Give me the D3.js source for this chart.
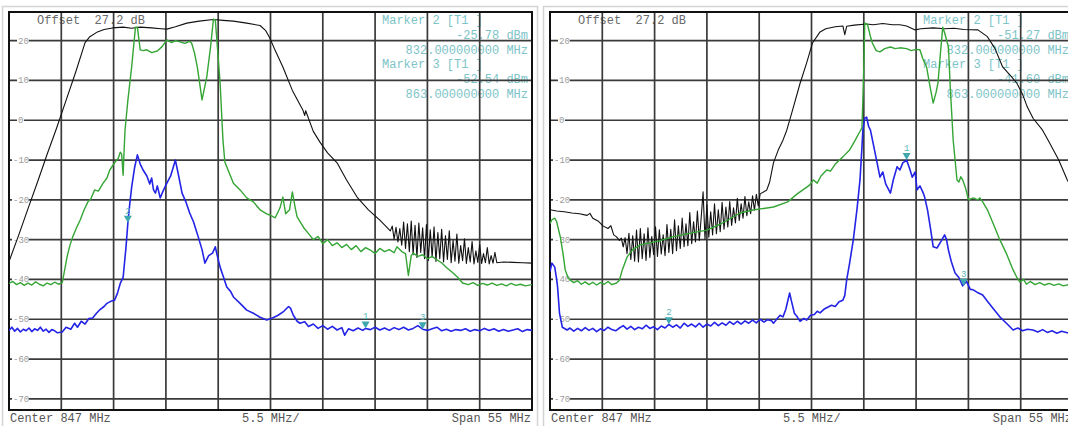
<!DOCTYPE html>
<html>
<head>
<meta charset="utf-8">
<script src="https://cdn.jsdelivr.net/npm/d3@7"></script>
<style>
  body { margin: 0; background: #fff; }
  svg { display: block; }
  text { font-family: "Liberation Mono", "DejaVu Sans Mono", monospace; }
</style>
</head>
<body>
<div id="chart"></div>
<script>
// Sweep settings
const centerMHz = 847;
const spanMHz = 55;
const refLevel = 27.2;
const bottomLevel = -72.8;
const freqGrid = [825, 830.5, 836, 841.5, 847, 852.5, 858, 863.5, 869];
const dbGrid = [20, 10, 0, -10, -20, -30, -40, -50, -60, -70];
const footerLabels = ['Center 847 MHz', '5.5 MHz/', 'Span 55 MHz'];
const offsetLabel = 'Offset  27.2 dB';

// Left screen traces, [MHz, dBm]
const leftBlack = [
  [819.5,-35.5],[820.5,-29.0],[821.5,-22.2],[822.5,-15.5],[823.5,-8.6],[824.5,-2.0],[825.5,5.0],
  [826.5,12.0],[827.5,19.5],[828.0,21.0],[828.8,22.2],[829.5,22.8],[830.4,23.2],[831.5,23.4],
  [832.4,23.1],[833.3,23.4],[834.5,23.2],[835.5,23.0],[836.1,22.9],[837.0,23.5],[838.2,24.4],
  [839.5,24.9],[841.0,25.3],[842.0,25.1],[843.1,24.9],[844.5,24.4],[845.9,23.8],[846.5,22.5],
  [846.9,20.8],[847.5,17.5],[848.3,13.4],[849.3,7.5],[850.4,2.6],[850.6,1.2],[850.7,2.4],[851.5,-2.8],
  [852.2,-5.5],[853.0,-8.2],[854.0,-10.7],[855.0,-15.0],[856.1,-19.3],[857.3,-22.5],[858.5,-25.1],
  [859.6,-27.8],[859.8,-26.6],[860.0,-29.8],[860.2,-26.9],[860.4,-30.6],[860.6,-27.2],[860.8,-31.4],
  [861.0,-25.6],[861.2,-32.2],[861.4,-26.0],[861.6,-33.0],[861.8,-25.3],[862.0,-33.8],[862.2,-26.4],
  [862.4,-34.5],[862.6,-25.8],[862.8,-33.2],[863.0,-27.0],[863.2,-34.8],[863.4,-26.2],[863.6,-35.2],
  [863.8,-27.5],[864.0,-34.4],[864.2,-26.8],[864.4,-35.5],[864.6,-28.2],[864.8,-34.8],[865.0,-27.4],
  [865.2,-35.6],[865.4,-29.0],[865.6,-35.0],[865.8,-27.8],[866.0,-35.8],[866.2,-30.2],[866.4,-35.4],
  [866.6,-28.6],[866.8,-35.9],[867.0,-31.5],[867.2,-35.3],[867.4,-29.8],[867.6,-36.0],[867.8,-32.0],
  [868.0,-35.6],[868.2,-30.5],[868.4,-36.1],[868.6,-32.8],[868.8,-35.7],[869.0,-31.2],[869.2,-36.0],
  [869.4,-33.5],[869.6,-35.8],[869.8,-32.0],[870.0,-36.1],[870.2,-34.0],[870.4,-35.9],[870.6,-33.2],
  [870.8,-35.8],[871.5,-35.6],[872.5,-35.7],[873.5,-35.8],[874.5,-35.9]
];
const leftGreen = [
  [819.5,-41.0],[819.9,-40.5],[820.3,-41.3],[820.7,-40.8],[821.1,-41.5],[821.5,-40.9],[821.9,-41.4],
  [822.3,-40.6],[822.7,-41.2],[823.1,-41.6],[823.5,-40.9],[823.9,-41.3],[824.3,-40.7],[824.7,-41.2],
  [825.1,-40.8],[825.4,-37.0],[825.6,-34.4],[825.9,-31.5],[826.2,-29.3],[826.6,-27.0],[827.0,-25.0],
  [827.4,-22.5],[827.8,-20.5],[828.1,-19.8],[828.5,-17.5],[828.9,-17.8],[829.4,-15.8],[829.8,-14.5],
  [830.1,-12.5],[830.6,-10.7],[831.0,-9.5],[831.2,-8.0],[831.35,-8.5],[831.5,-13.8],[831.6,-8.0],
  [831.7,-2.5],[832.0,5.0],[832.4,13.4],[832.8,23.4],[833.0,23.4],[833.3,17.7],[833.6,17.5],
  [834.0,17.7],[834.5,17.0],[835.1,17.4],[835.6,18.5],[836.1,20.2],[836.6,19.5],[837.0,20.0],
  [837.5,19.7],[838.0,19.3],[838.5,19.8],[838.7,19.4],[839.0,17.0],[839.3,13.4],[839.8,5.1],
  [840.3,10.9],[840.7,18.5],[841.0,25.4],[841.2,25.2],[841.7,9.4],[842.0,-5.0],[842.2,-10.5],
  [842.4,-11.7],[843.1,-15.8],[843.8,-17.5],[844.5,-19.5],[845.2,-20.5],[845.9,-22.5],[846.6,-23.5],
  [846.9,-23.8],[847.5,-24.5],[848.0,-22.0],[848.3,-19.3],[848.6,-23.5],[849.0,-22.5],[849.3,-18.0],
  [849.6,-22.0],[849.8,-24.3],[850.5,-27.0],[851.0,-28.5],[851.5,-30.0],[852.0,-29.2],[852.5,-31.0],
  [853.0,-30.0],[853.5,-31.5],[854.0,-30.8],[854.5,-32.0],[855.0,-31.2],[855.5,-32.5],[856.0,-31.5],
  [856.5,-33.0],[857.0,-32.0],[857.5,-32.6],[858.0,-33.5],[858.5,-32.2],[859.0,-33.0],[859.5,-32.5],
  [860.0,-33.3],[860.3,-31.8],[860.8,-33.0],[861.2,-33.5],[861.5,-39.0],[861.8,-34.0],[862.0,-33.4],
  [862.5,-34.2],[863.0,-33.8],[863.5,-34.8],[864.0,-34.2],[864.5,-35.1],[865.0,-35.8],[865.5,-37.0],
  [866.2,-38.4],[866.7,-39.5],[867.2,-40.9],[867.8,-41.3],[868.3,-40.8],[868.8,-41.5],[869.3,-41.0],
  [869.8,-41.4],[870.3,-40.9],[870.8,-41.5],[871.3,-41.1],[871.8,-41.6],[872.3,-41.0],[872.8,-41.5],
  [873.3,-41.2],[873.8,-41.6],[874.5,-41.3]
];
const leftBlue = [
  [819.5,-52.8],[819.8,-52.0],[820.1,-53.0],[820.4,-52.3],[820.7,-53.2],[821.0,-52.5],[821.3,-52.9],
  [821.6,-52.2],[821.9,-53.1],[822.2,-52.4],[822.5,-52.8],[822.8,-52.0],[823.1,-53.0],[823.4,-52.5],
  [823.7,-53.3],[824.0,-52.6],[824.3,-52.9],[824.6,-53.4],[825.1,-53.2],[825.5,-52.0],[826.0,-52.5],
  [826.4,-51.0],[826.7,-52.0],[827.1,-50.5],[827.5,-51.2],[827.9,-49.8],[828.3,-49.7],[828.7,-48.5],
  [829.1,-47.5],[829.5,-46.8],[829.8,-46.0],[830.2,-45.5],[830.6,-45.2],[830.9,-43.5],[831.2,-41.0],
  [831.5,-39.5],[831.8,-32.0],[832.0,-25.8],[832.2,-21.0],[832.4,-16.8],[832.7,-12.0],[833.0,-8.7],
  [833.3,-11.0],[833.6,-12.5],[834.0,-14.0],[834.3,-16.0],[834.5,-14.5],[834.7,-17.5],[834.9,-18.3],
  [835.1,-16.5],[835.4,-19.5],[835.7,-17.8],[836.1,-15.8],[836.5,-14.0],[837.0,-10.0],[837.3,-13.5],
  [837.7,-18.3],[838.1,-20.5],[838.5,-23.3],[838.9,-25.5],[839.4,-29.3],[839.8,-32.5],[840.1,-35.9],
  [840.5,-34.0],[840.9,-33.4],[841.2,-31.8],[841.4,-34.0],[841.7,-36.9],[842.0,-39.0],[842.4,-41.9],
  [842.8,-43.0],[843.1,-44.4],[843.8,-46.0],[844.5,-47.7],[845.2,-48.5],[845.9,-49.5],[846.6,-50.2],
  [847.2,-49.7],[847.8,-49.0],[848.4,-48.0],[848.9,-46.8],[849.1,-47.2],[849.4,-49.0],[849.8,-50.5],
  [850.1,-51.0],[850.6,-50.6],[851.0,-51.8],[851.5,-51.2],[852.0,-52.3],[852.5,-51.6],[853.0,-52.5],
  [853.5,-51.8],[854.0,-52.7],[854.5,-52.1],[854.8,-54.0],[855.2,-52.4],[855.7,-52.9],[856.2,-52.2],
  [856.7,-52.8],[857.0,-52.3],[857.5,-52.6],[858.0,-52.0],[858.5,-52.7],[859.0,-52.2],[859.5,-52.8],
  [860.0,-52.1],[860.5,-52.6],[861.0,-52.0],[861.5,-52.7],[862.0,-52.3],[862.5,-51.6],[863.0,-52.5],
  [863.5,-52.8],[864.0,-52.4],[864.5,-52.0],[865.0,-52.9],[865.5,-52.5],[866.0,-53.0],[866.5,-52.6],
  [867.0,-52.8],[867.5,-52.4],[868.0,-53.0],[868.5,-52.6],[869.0,-52.9],[869.5,-52.3],[870.0,-52.8],
  [870.5,-52.4],[871.0,-53.0],[871.5,-52.6],[872.0,-53.0],[872.5,-52.7],[873.0,-52.4],[873.5,-53.1],
  [874.0,-52.6],[874.5,-52.8]
];

// Right screen traces, [MHz, dBm]
const rightBlack = [
  [819.5,-22.5],[820.2,-22.8],[821.0,-23.0],[821.8,-23.3],[822.6,-23.5],[823.4,-23.9],[823.7,-23.4],
  [824.0,-24.6],[824.6,-25.4],[825.1,-26.6],[825.6,-27.2],[825.9,-26.5],[826.2,-28.8],[826.5,-29.3],
  [826.8,-30.2],[827.0,-29.6],
  [827.2,-31.8],[827.4,-29.5],[827.6,-33.5],[827.8,-28.4],[828.0,-35.0],[828.2,-29.0],[828.4,-35.4],
  [828.6,-27.6],[828.8,-35.6],[829.0,-27.2],[829.2,-34.8],[829.4,-28.5],[829.6,-35.2],[829.8,-27.0],
  [830.0,-34.5],[830.2,-29.2],[830.4,-33.8],[830.6,-26.8],[830.8,-34.2],[831.0,-27.5],[831.2,-33.6],
  [831.4,-28.8],[831.6,-34.0],[831.8,-26.2],[832.0,-33.2],[832.2,-27.4],[832.4,-33.5],[832.6,-25.0],
  [832.8,-32.8],[833.0,-26.5],[833.2,-32.2],[833.4,-24.6],[833.6,-31.8],[833.8,-26.0],[834.0,-31.5],
  [834.2,-23.2],[834.4,-31.0],[834.6,-25.5],[834.8,-30.6],[835.0,-22.8],[835.2,-30.2],[835.4,-24.4],
  [835.6,-18.0],[835.8,-29.8],[836.0,-21.2],[836.2,-29.4],[836.4,-23.0],[836.6,-28.8],[836.8,-21.0],
  [837.0,-28.5],[837.2,-22.5],[837.4,-28.0],[837.6,-20.6],[837.8,-27.4],[838.0,-21.8],[838.2,-26.8],
  [838.4,-20.4],[838.6,-26.4],[838.8,-22.0],[839.0,-25.8],[839.2,-19.6],[839.4,-25.2],[839.6,-21.0],
  [839.8,-24.6],[840.0,-19.2],[840.2,-24.0],[840.4,-20.5],[840.6,-23.5],[840.8,-19.0],[841.0,-22.6],
  [841.2,-18.6],[841.4,-21.5],[841.6,-18.5],
  [842.3,-17.5],[842.6,-15.5],[843.0,-10.7],[843.5,-7.5],[844.0,-5.0],[844.4,-2.5],[845.0,2.5],
  [845.8,9.3],[846.5,14.5],[847.1,19.4],[847.9,22.2],[848.5,23.0],[849.5,23.5],[850.3,23.7],
  [850.5,21.5],[850.7,23.6],[851.5,23.9],[852.8,24.2],[853.5,24.0],[854.5,24.3],[855.5,24.0],
  [856.3,24.0],[857.0,23.7],[857.9,22.7],[858.5,23.0],[859.8,23.2],[861.0,23.0],[862.0,23.1],
  [863.0,22.8],[864.5,22.7],[865.5,21.0],[866.3,18.0],[867.1,13.4],[868.0,11.0],[868.6,9.3],
  [869.2,6.5],[869.7,3.3],[870.3,0.5],[871.3,-2.5],[872.0,-5.5],[873.0,-10.0],[873.9,-15.0],[874.5,-17.5]
];
const rightGreen = [
  [819.5,-26.0],[819.7,-25.0],[820.0,-24.6],[820.2,-25.5],[820.6,-29.5],[820.9,-34.0],[821.1,-37.6],
  [821.4,-39.5],[821.6,-40.1],[822.0,-40.8],[822.4,-40.3],[822.8,-41.2],[823.2,-40.6],[823.6,-41.3],
  [824.0,-40.7],[824.4,-41.4],[824.8,-40.8],[825.2,-41.2],[825.6,-40.5],[826.0,-41.3],[826.5,-40.9],
  [826.8,-40.2],[827.1,-37.6],[827.6,-34.4],[828.2,-32.5],[829.0,-31.3],[830.0,-30.8],[831.0,-30.3],
  [832.4,-29.3],[834.0,-28.5],[836.0,-27.6],[837.5,-26.0],[839.5,-23.3],[841.0,-22.5],[843.0,-21.8],
  [844.5,-20.5],[845.5,-18.5],[846.8,-16.3],[847.2,-15.0],[847.6,-15.8],[848.0,-14.0],[848.6,-12.5],
  [849.0,-12.8],[849.5,-11.0],[850.3,-9.2],[851.0,-7.5],[851.6,-5.0],[852.0,-3.2],[852.3,-2.0],
  [852.4,5.0],[852.5,13.4],[852.6,24.4],[852.9,24.0],[853.2,21.0],[853.4,19.4],[853.8,17.5],
  [854.2,17.2],[854.7,18.0],[855.3,18.4],[855.8,18.0],[856.3,18.2],[857.0,18.0],[857.5,17.5],
  [858.0,17.8],[858.4,17.7],[858.7,15.5],[859.1,13.4],[859.5,8.0],[859.8,4.3],[860.1,7.0],
  [860.3,9.4],[860.6,18.0],[860.8,23.4],[861.0,22.0],[861.4,18.4],[861.6,8.0],[861.9,-5.0],
  [862.1,-10.0],[862.3,-15.0],[862.5,-15.5],[862.7,-14.2],[862.9,-15.0],[863.2,-17.0],[863.5,-20.0],
  [864.0,-19.5],[864.5,-20.0],[864.7,-19.5],[865.0,-20.5],[865.5,-22.5],[866.2,-26.5],[866.8,-30.0],
  [867.5,-33.5],[868.2,-37.6],[868.6,-39.5],[868.9,-40.6],[869.3,-40.0],[869.6,-41.2],[870.0,-40.5],
  [870.5,-41.3],[871.0,-40.8],[871.5,-41.4],[872.0,-41.0],[872.5,-41.5],[873.0,-41.1],[873.5,-41.6],
  [874.0,-41.3],[874.5,-41.5]
];
const rightBlue = [
  [819.5,-38.0],[819.7,-35.9],[820.0,-36.9],[820.2,-40.0],[820.3,-42.0],[820.5,-48.5],[820.8,-52.0],
  [821.3,-52.7],[821.6,-52.2],[822.0,-53.0],[822.4,-52.3],[822.8,-52.9],[823.2,-52.1],[823.6,-52.8],
  [824.0,-52.3],[824.4,-53.1],[824.8,-52.4],[825.2,-52.8],[825.6,-52.0],[826.0,-52.6],[826.4,-52.9],
  [826.8,-52.2],[827.2,-51.6],[827.6,-52.5],[828.0,-51.8],[828.4,-52.6],[828.8,-52.0],[829.2,-52.4],
  [829.6,-51.5],[830.0,-52.3],[830.4,-51.9],[830.8,-52.6],[831.2,-51.7],[831.6,-52.2],[832.0,-51.3],
  [832.4,-52.0],[832.8,-51.4],[833.2,-52.2],[833.6,-51.0],[834.0,-51.8],[834.4,-51.2],[834.8,-51.9],
  [835.2,-51.0],[835.6,-52.0],[836.0,-51.2],[836.4,-51.7],[836.8,-50.8],[837.2,-51.6],[837.6,-50.9],
  [838.0,-51.5],[838.4,-50.6],[838.8,-51.3],[839.2,-50.5],[839.6,-51.2],[840.0,-50.4],[840.4,-51.0],
  [840.8,-50.2],[841.2,-50.9],[841.6,-50.0],[842.0,-50.7],[842.4,-50.1],[842.8,-50.4],[843.0,-51.0],
  [843.4,-49.8],[843.7,-49.0],[844.0,-49.4],[844.3,-47.5],[844.7,-43.4],[844.9,-45.5],[845.2,-48.5],
  [845.5,-49.4],[845.8,-50.5],[846.2,-49.8],[846.5,-50.2],[846.9,-49.0],[847.3,-48.8],[847.6,-48.0],
  [847.9,-48.4],[848.3,-47.5],[848.7,-47.0],[849.1,-46.5],[849.5,-46.8],[849.9,-45.6],[850.3,-45.2],
  [850.5,-44.0],[850.7,-40.1],[851.0,-36.0],[851.4,-30.0],[851.8,-22.0],[852.1,-15.0],[852.3,-7.0],
  [852.4,-2.5],[852.6,0.5],[852.8,0.8],[853.0,-1.5],[853.2,-2.5],[853.5,-6.0],[853.9,-10.7],
  [854.2,-14.3],[854.5,-13.0],[854.8,-16.0],[855.3,-18.3],[855.6,-15.0],[856.0,-11.7],[856.3,-12.5],
  [856.6,-10.7],[857.0,-10.0],[857.3,-12.0],[857.6,-14.3],[857.9,-13.0],[858.1,-17.5],[858.4,-16.5],
  [858.7,-18.0],[858.9,-19.3],[859.2,-22.5],[859.5,-27.0],[859.8,-31.8],[860.2,-32.1],[860.6,-30.5],
  [861.0,-28.8],[861.2,-30.0],[861.4,-32.6],[861.7,-35.5],[862.1,-38.4],[862.5,-39.5],[862.9,-41.6],
  [863.3,-40.5],[863.7,-42.5],[864.0,-42.6],[864.4,-43.2],[865.0,-43.9],[865.5,-45.5],[866.0,-47.0],
  [866.8,-49.4],[867.5,-51.0],[868.2,-52.7],[868.7,-52.2],[869.2,-52.9],[869.7,-52.5],[870.3,-52.7],
  [870.8,-53.2],[871.3,-52.6],[871.8,-53.3],[872.3,-52.9],[872.8,-53.5],[873.3,-53.0],[873.9,-53.4],
  [874.5,-53.5]
];

// Markers: number, MHz, dBm
const leftMarkers = [[1, 857, -52.3], [2, 832, -25.78], [3, 863, -52.54]];
const rightMarkers = [[1, 857, -10.0], [2, 832, -51.27], [3, 863, -41.6]];
const leftMarkerText = ['Marker 2 [T1 ]', '-25.78 dBm', '832.000000000 MHz', 'Marker 3 [T1 ]', '-52.54 dBm', '863.000000000 MHz'];
const rightMarkerText = ['Marker 2 [T1 ]', '-51.27 dBm', '832.000000000 MHz', 'Marker 3 [T1 ]', '-41.60 dBm', '863.000000000 MHz'];

const width = 1068;
const height = 426;
const plotW = 523;
const plotH = 398;
const plotTop = 12;

const svg = d3.select('#chart').append('svg')
  .attr('width', width)
  .attr('height', height);

const x = d3.scaleLinear().domain([centerMHz - spanMHz / 2, centerMHz + spanMHz / 2]).range([0, plotW]);
const y = d3.scaleLinear().domain([refLevel, bottomLevel]).range([0, plotH]);

function drawPanel(left, id, traces, markers, markerText) {
  const g = svg.append('g').attr('transform', `translate(${left},${plotTop})`);

  // light window border
  g.append('rect')
    .attr('x', -6.5).attr('y', -5.5)
    .attr('width', plotW + 12).attr('height', plotH + 30)
    .attr('fill', 'none').attr('stroke', '#d4d4d4').attr('stroke-width', 1.5);

  g.append('text')
    .attr('x', 28).attr('y', 12)
    .attr('font-size', 12).attr('fill', '#6a6a6a')
    .attr('xml:space', 'preserve')
    .text(offsetLabel);

  // marker readout (behind the grid)
  const mt = g.append('g').attr('font-size', 12).attr('fill', '#7cc4c8');
  markerText.forEach((t, i) => {
    const isHead = t.startsWith('Marker');
    mt.append('text')
      .attr('x', isHead ? 373 : 519)
      .attr('y', 12 + i * 14.8)
      .attr('text-anchor', isHead ? 'start' : 'end')
      .text(t);
  });

  // grid
  g.append('g').selectAll('line').data(freqGrid).join('line')
    .attr('x1', d => x(d)).attr('x2', d => x(d))
    .attr('y1', 0).attr('y2', plotH)
    .attr('stroke', '#3a3a3a').attr('stroke-width', 1.7);
  g.append('g').selectAll('line').data(dbGrid).join('line')
    .attr('x1', 0).attr('x2', plotW)
    .attr('y1', d => y(d)).attr('y2', d => y(d))
    .attr('stroke', '#3a3a3a').attr('stroke-width', 1.7);

  g.append('rect')
    .attr('width', plotW).attr('height', plotH)
    .attr('fill', 'none').attr('stroke', '#111').attr('stroke-width', 2);

  // level labels
  const lab = g.append('g');
  dbGrid.forEach(d => {
    const tx = d < 0 ? 4 : 9;
    const txt = String(d);
    const w = txt.length * 4.9;
    lab.append('rect')
      .attr('x', tx - 1).attr('y', y(d) - 4)
      .attr('width', w + 2).attr('height', 8)
      .attr('fill', '#fff');
    lab.append('text')
      .attr('x', tx).attr('y', y(d) + 3)
      .attr('font-size', 9)
      .attr('font-family', 'Liberation Sans, Arial, sans-serif')
      .attr('fill', '#9a9a9a')
      .text(txt);
  });

  // traces
  g.append('clipPath').attr('id', 'clip' + id)
    .append('rect').attr('width', plotW).attr('height', plotH);
  const line = d3.line().x(d => x(d[0])).y(d => y(d[1]));
  const tg = g.append('g').attr('clip-path', `url(#clip${id})`);
  traces.forEach(t => {
    tg.append('path')
      .datum(t.data)
      .attr('d', line)
      .attr('fill', 'none')
      .attr('stroke', t.color)
      .attr('stroke-width', t.w)
      .attr('stroke-linejoin', 'round');
  });

  // marker symbols
  const mk = g.append('g');
  markers.forEach(([n, f, v]) => {
    const px = x(f), py = y(v);
    mk.append('path')
      .attr('d', `M${px - 4},${py - 7}L${px + 4},${py - 7}L${px},${py}Z`)
      .attr('fill', '#3fa7ae');
    mk.append('text')
      .attr('x', px).attr('y', py - 9)
      .attr('text-anchor', 'middle')
      .attr('font-size', 9)
      .attr('fill', '#5cb6bb')
      .text(n);
  });

  // footer
  const ft = g.append('g').attr('font-size', 12).attr('fill', '#555');
  ft.append('text').attr('x', 1).attr('y', plotH + 12).text(footerLabels[0]);
  ft.append('text').attr('x', 233).attr('y', plotH + 12).text(footerLabels[1]);
  ft.append('text').attr('x', plotW - 1).attr('y', plotH + 12).attr('text-anchor', 'end').text(footerLabels[2]);
}

drawPanel(9, 'L', [
  { data: leftBlack, color: '#111', w: 1.1 },
  { data: leftGreen, color: '#35a535', w: 1.4 },
  { data: leftBlue, color: '#2424e6', w: 1.6 }
], leftMarkers, leftMarkerText);

drawPanel(550, 'R', [
  { data: rightBlack, color: '#111', w: 1.1 },
  { data: rightGreen, color: '#35a535', w: 1.4 },
  { data: rightBlue, color: '#2424e6', w: 1.6 }
], rightMarkers, rightMarkerText);
</script>
</body>
</html>
